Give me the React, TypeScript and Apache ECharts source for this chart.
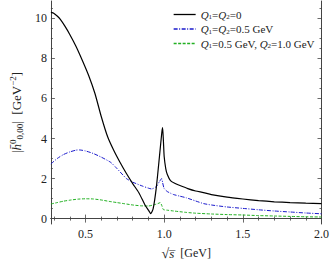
import React, { useEffect, useRef } from "react";
import * as echarts from "echarts";

const xBlack = [0.28,0.30,0.32,0.34,0.37,0.40,0.44,0.48,0.52,0.56,0.60,0.64,0.68,0.72,0.76,0.80,0.84,0.88,0.90,0.915,0.93,0.95,0.97,0.985,0.99,0.995,1.0,1.01,1.02,1.04,1.07,1.10,1.15,1.20,1.25,1.30,1.40,1.50,1.60,1.70,1.80,1.90,2.0];
const yBlack = [10.3,10.25,10.12,9.95,9.6,9.2,8.6,7.9,7.15,6.25,5.1,4.1,3.4,2.8,2.25,1.75,1.28,0.65,0.42,0.25,0.5,1.55,3.1,4.3,4.55,3.9,3.1,2.5,2.2,1.9,1.75,1.65,1.5,1.38,1.3,1.2,1.07,0.98,0.9,0.84,0.8,0.77,0.75];

const xBlue = [0.28,0.32,0.36,0.40,0.44,0.46,0.50,0.55,0.60,0.66,0.70,0.76,0.80,0.86,0.90,0.92,0.95,0.97,0.984,0.99,1.0,1.02,1.04,1.06,1.10,1.14,1.20,1.25,1.30,1.40,1.50,1.60,1.70,1.80,1.90,2.0];
const yBlue = [2.73,3.0,3.2,3.33,3.42,3.43,3.38,3.25,3.07,2.81,2.5,2.0,1.82,1.63,1.52,1.48,1.6,1.85,2.0,1.8,1.5,1.35,1.27,1.2,1.12,1.04,0.88,0.75,0.68,0.58,0.51,0.44,0.38,0.33,0.28,0.24];

const xGreen = [0.28,0.32,0.36,0.40,0.45,0.50,0.55,0.60,0.65,0.70,0.75,0.80,0.85,0.90,0.94,0.96,0.975,0.985,0.995,1.02,1.06,1.14,1.20,1.30,1.40,1.50,1.60,1.70,1.80,1.90,2.0];
const yGreen = [0.73,0.8,0.87,0.92,0.97,0.99,0.98,0.93,0.86,0.8,0.74,0.68,0.64,0.63,0.7,0.75,0.8,0.65,0.45,0.42,0.38,0.31,0.27,0.23,0.2,0.18,0.15,0.13,0.11,0.09,0.08];

const xMajorTicks = [0.5, 1.0, 1.5, 2.0];
const xMinorTicks = [0.3,0.4,0.6,0.7,0.8,0.9,1.1,1.2,1.3,1.4,1.6,1.7,1.8,1.9];
const yMajorTicks = [0, 2, 4, 6, 8, 10];
const yMinorTicks = [0.5,1,1.5,2.5,3,3.5,4.5,5,5.5,6.5,7,7.5,8.5,9,9.5,10.5];

const seriesNames = ["Q1=Q2=0", "Q1=Q2=0.5 GeV", "Q1=0.5 GeV, Q2=1.0 GeV"];
const legendRich = [
  "{q|Q}{s|1}{t|=}{q|Q}{s|2}{t|=0}",
  "{q|Q}{s|1}{t|=}{q|Q}{s|2}{t|=0.5 GeV}",
  "{q|Q}{s|1}{t|=0.5 GeV, }{q|Q}{s|2}{t|=1.0 GeV}",
];

const X_MIN = 0.28, X_MAX = 2.0, Y_MIN = -0.27, Y_MAX = 10.87;
const FONT = "Liberation Serif";

function zip(xs: number[], ys: number[]) {
  return xs.map((x, i) => [x, ys[i]]);
}

export default function App() {
  const ref = useRef<HTMLDivElement>(null);
  useEffect(() => {
    document.body.style.margin = "0";
    const chart = echarts.init(ref.current!, null, { renderer: "svg" });
    const tickBase = { inside: true, lineStyle: { color: "#444", width: 0.8 } };
    const lineBase = { show: true, lineStyle: { color: "#444", width: 1 } };
    const mkX = (pos: string, major: boolean, labels: boolean) => ({
      type: "value", min: X_MIN, max: X_MAX, position: pos,
      axisLine: major ? lineBase : { show: false },
      axisTick: { ...tickBase, length: major ? 4 : 2, customValues: major ? xMajorTicks : xMinorTicks },
      axisLabel: labels
        ? { show: true, customValues: xMajorTicks, formatter: (v: number) => v.toFixed(1), fontFamily: FONT, fontSize: 12, color: "#222", margin: 4 }
        : { show: false },
      splitLine: { show: false },
      ...(labels ? {
        name: "{r|√}{s|s̅}{t|  [GeV]}", nameLocation: "middle", nameGap: 22,
        nameTextStyle: { fontFamily: FONT, rich: { r: { fontFamily: FONT, fontSize: 14, color: "#222" }, s: { fontFamily: FONT, fontSize: 13, fontStyle: "italic", color: "#222" }, t: { fontFamily: FONT, fontSize: 12, color: "#222" } } },
      } : {}),
    });
    const mkY = (pos: string, major: boolean, labels: boolean) => ({
      type: "value", min: Y_MIN, max: Y_MAX, position: pos,
      axisLine: major ? lineBase : { show: false },
      axisTick: { ...tickBase, length: major ? 4 : 2, customValues: major ? yMajorTicks : yMinorTicks },
      axisLabel: labels
        ? { show: true, customValues: yMajorTicks, fontFamily: FONT, fontSize: 12, color: "#222", margin: 4 }
        : { show: false },
      splitLine: { show: false },
      ...(labels ? {
        name: "{t||}{h|h̄}{sup|0}{sub|0,00}{t||  [GeV}{sup|−2}{t|]}", nameLocation: "middle", nameGap: 20, nameRotate: 90,
        nameTextStyle: { fontFamily: FONT, rich: {
          t: { fontFamily: FONT, fontSize: 13, color: "#222", lineHeight: 16 },
          h: { fontFamily: FONT, fontSize: 13, fontStyle: "italic", color: "#222", lineHeight: 16 },
          sup: { fontFamily: FONT, fontSize: 9, color: "#222", verticalAlign: "top", lineHeight: 16 },
          sub: { fontFamily: FONT, fontSize: 9, color: "#222", verticalAlign: "bottom", lineHeight: 16 },
        } },
      } : {}),
    });
    const colors = ["#000000", "#1a1acc", "#22b022"];
    const dashes: any[] = ["solid", [4, 1.5, 1, 1.5], [3, 1.5]];
    const legendDashes: any[] = ["solid", [4, 1.5, 1, 1.5], [3, 1.5]];
    const widths = [1.2, 1, 1];
    const datas = [zip(xBlack, yBlack), zip(xBlue, yBlue), zip(xGreen, yGreen)];
    chart.setOption({
      animation: false,
      textStyle: { fontFamily: FONT },
      grid: { left: 37, right: 9, top: 1, bottom: 36 },
      xAxis: [mkX("bottom", true, true), mkX("bottom", false, false), mkX("top", true, false), mkX("top", false, false)],
      yAxis: [mkY("left", true, true), mkY("left", false, false), mkY("right", true, false), mkY("right", false, false)],
      legend: {
        orient: "vertical", left: 168, top: 4, itemWidth: 22, itemHeight: 10, itemGap: 3,
        data: seriesNames.map((n, i) => ({
          name: n,
          itemStyle: { opacity: 0 },
          lineStyle: { color: colors[i], width: 1.3, type: legendDashes[i], opacity: 1 },
        })),
        formatter: (name: string) => legendRich[seriesNames.indexOf(name)],
        textStyle: { fontFamily: FONT, rich: {
          q: { fontFamily: FONT, fontSize: 11, fontStyle: "italic", color: "#222", lineHeight: 12 },
          s: { fontFamily: FONT, fontSize: 7, color: "#222", verticalAlign: "bottom", lineHeight: 12 },
          t: { fontFamily: FONT, fontSize: 11, color: "#222", lineHeight: 12 },
        } },
      },
      series: datas.map((d, i) => ({
        type: "line", name: seriesNames[i], data: d, xAxisIndex: 0, yAxisIndex: 0,
        symbol: "none", smooth: 0.2, color: colors[i],
        lineStyle: { color: colors[i], width: widths[i], type: dashes[i] },
        z: 3 - i,
      })),
    });
    return () => chart.dispose();
  }, []);
  return <div ref={ref} style={{ width: 332, height: 265 }} />;
}
